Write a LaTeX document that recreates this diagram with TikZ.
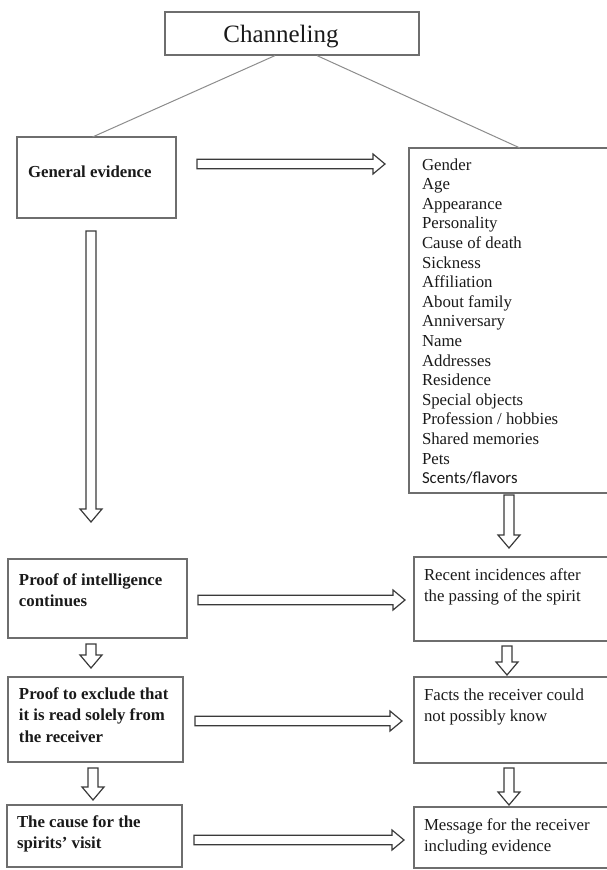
\documentclass[tikz,border=0pt]{standalone}
\usepackage{fontspec}
\setmainfont{Liberation Serif}
\newfontfamily\calibri{Carlito}
\usepackage{tikz}
\usetikzlibrary{calc}
\definecolor{boxgray}{HTML}{6E6E6E}
\definecolor{linegray}{HTML}{8C8C8C}
\definecolor{arrowgray}{HTML}{3A3A3A}
\definecolor{inkgray}{HTML}{1A1A1A}
\newcommand{\cell}[4]{\parbox[b][#1pt][t]{#2pt}{\vspace*{#3pt}#4}}

\begin{document}
\begin{tikzpicture}[x=1pt, y=-1pt,
    box/.style = {draw=boxgray, line width=1.2pt, anchor=north west, inner ysep=0pt, inner xsep=11pt, outer sep=0pt, text=inkgray, font=\fontsize{16.8}{21.5}\selectfont},
    link/.style = {draw=linegray, line width=1pt},
    harrow/.style = {draw=arrowgray, line width=1.2pt, fill=white, to path={($(\tikztostart)+(0,-4.8)$) -- ($(\tikztotarget)+(-12,-4.8)$) -- ($(\tikztotarget)+(-12,-10)$) -- (\tikztotarget) -- ($(\tikztotarget)+(-12,10)$) -- ($(\tikztotarget)+(-12,4.8)$) -- ($(\tikztostart)+(0,4.8)$) -- cycle}},
    varrow/.style = {draw=arrowgray, line width=1.2pt, fill=white, to path={($(\tikztostart)+(-5,0)$) -- ($(\tikztotarget)+(-5,-13)$) -- ($(\tikztotarget)+(-11,-13)$) -- (\tikztotarget) -- ($(\tikztotarget)+(11,-13)$) -- ($(\tikztotarget)+(5,-13)$) -- ($(\tikztostart)+(5,0)$) -- cycle}}]
    \useasboundingbox (0,0) rectangle (606,870);
    \node[draw=boxgray, line width=1.2pt, minimum width=254pt, minimum height=43pt, text height=18pt, text depth=0pt, text=inkgray, font=\fontsize{25}{30}\selectfont] (chan) at (292,33.5) {Channeling\hspace*{22pt}};
    \node[box] (ge) at (17,137) {\cell{81}{137}{28.5}{\textbf{General evidence}}};
    \node[box, inner xsep=13pt, font=\fontsize{16.8}{19.6}\selectfont] (list) at (409,148) {\cell{345}{180}{10.5}{Gender\\ Age\\ Appearance\\ Personality\\ Cause of death\\ Sickness\\ Affiliation\\ About family\\ Anniversary\\ Name\\ Addresses\\ Residence\\ Special objects\\ Profession / hobbies\\ Shared memories\\ Pets\\ {\calibri Scents/flavors}}};
    \node[box] (pi) at (8,559) {\cell{79}{157}{14.5}{\textbf{Proof of intelligence\\ continues}}};
    \node[box, inner xsep=10pt] (ri) at (414,557) {\cell{84}{181}{11.5}{Recent incidences after\\ the passing of the spirit}};
    \node[box] (pe) at (8,677) {\cell{85}{153}{10.5}{\textbf{Proof to exclude that\\ it is read solely from\\ the receiver}}};
    \node[box, inner xsep=10pt] (fr) at (414,677) {\cell{86}{181}{11.5}{Facts the receiver could\\ not possibly know}};
    \node[box, inner xsep=10pt] (cv) at (7,805) {\cell{62}{155}{10.5}{\textbf{The cause for the\\ spirits' visit}}};
    \node[box, inner xsep=10pt] (mr) at (414,807) {\cell{61}{181}{11.5}{Message for the receiver\\ including evidence}};
    \draw[link] ([xshift=-17pt]chan.south) -- ([xshift=-4pt]ge.north);
    \draw[link] ([xshift=25pt]chan.south) -- ([xshift=8pt]list.north);
    \coordinate (a1s) at (197,164);
    \coordinate (a1e) at (385,164);
    \coordinate (a2s) at (198,600);
    \coordinate (a2e) at (405,600);
    \coordinate (a3s) at (195,721);
    \coordinate (a3e) at (402,721);
    \coordinate (a4s) at (194,840);
    \coordinate (a4e) at (404,840);
    \coordinate (v1s) at (91,231);
    \coordinate (v1e) at (91,522);
    \coordinate (v2s) at (91,644);
    \coordinate (v2e) at (91,668);
    \coordinate (v3s) at (93,768);
    \coordinate (v3e) at (93,800);
    \coordinate (v4s) at (509,495);
    \coordinate (v4e) at (509,548);
    \coordinate (v5s) at (507,646);
    \coordinate (v5e) at (507,675);
    \coordinate (v6s) at (509,768);
    \coordinate (v6e) at (509,805);
    \draw[harrow] (a1s) to (a1e);
    \draw[harrow] (a2s) to (a2e);
    \draw[harrow] (a3s) to (a3e);
    \draw[harrow] (a4s) to (a4e);
    \draw[varrow] (v1s) to (v1e);
    \draw[varrow] (v2s) to (v2e);
    \draw[varrow] (v3s) to (v3e);
    \draw[varrow] (v4s) to (v4e);
    \draw[varrow] (v5s) to (v5e);
    \draw[varrow] (v6s) to (v6e);
\end{tikzpicture}
\end{document}
